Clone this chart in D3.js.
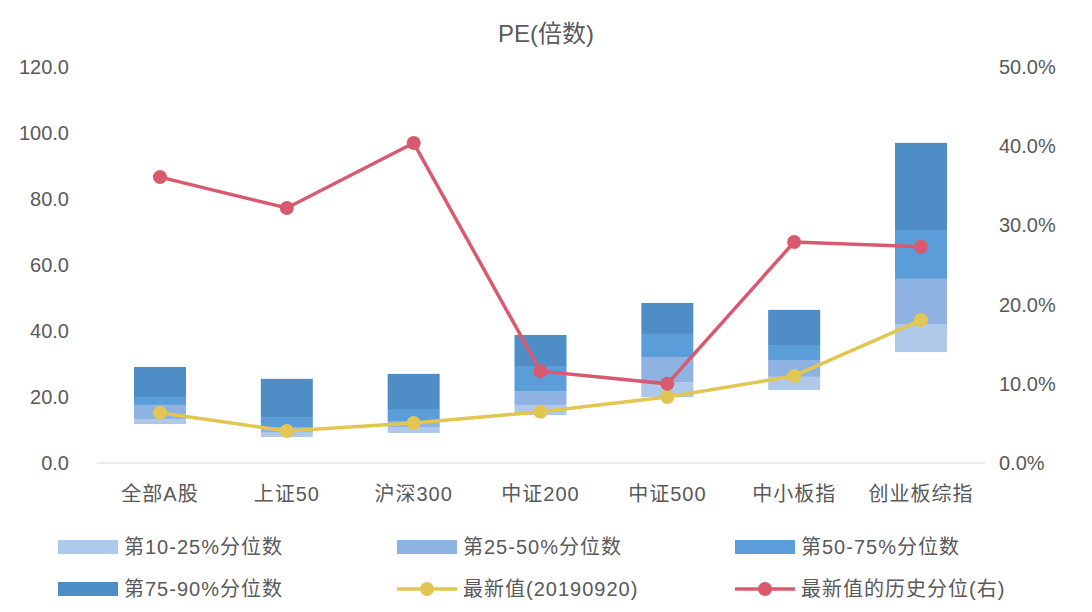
<!DOCTYPE html>
<html><head><meta charset="utf-8">
<script src="https://cdn.jsdelivr.net/npm/d3@7"></script>
<style>body{margin:0;background:#fff;font-family:"Liberation Sans","Noto Sans CJK SC",sans-serif}</style>
</head><body><svg id="c" width="1092" height="612"></svg>
<script>
const categories = ['全部A股','上证50','沪深300','中证200','中证500','中小板指','创业板综指'];
const p10 = [11.8, 7.9, 9.1, 14.5, 20.0, 22.1, 33.6];
const p25 = [13.3, 9.4, 10.9, 17.6, 24.5, 26.1, 42.1];
const p50 = [17.6, 10.9, 12.7, 21.8, 32.1, 31.2, 55.8];
const p75 = [20.0, 13.9, 16.1, 29.4, 39.1, 35.5, 70.6];
const p90 = [29.1, 25.5, 27.0, 38.8, 48.5, 46.4, 97.0];
const latest = [15.2, 9.7, 12.1, 15.5, 20.0, 26.4, 43.3];
const pctRank = [36.1, 32.2, 40.4, 11.6, 10.0, 27.9, 27.3];
const leftTicks = [0, 20, 40, 60, 80, 100, 120];
const rightTicks = [0, 10, 20, 30, 40, 50];

const svg = d3.select('#c');
const L = 75, R = 985, T = 67, B = 463, BW = 52;
const x = d3.scalePoint().domain(categories).range([160, 921]);
const y = d3.scaleLinear().domain([0, 120]).range([B, T]);
const y2 = d3.scaleLinear().domain([0, 50]).range([B, T]);
const cx = c => x(c);

svg.append('text').attr('x', 546).attr('y', 42).attr('text-anchor', 'middle')
  .attr('font-size', 24).attr('fill', '#595959').text('PE(倍数)');

const ax = svg.append('g').attr('transform', `translate(${L},0)`)
  .call(d3.axisLeft(y).tickValues(leftTicks).tickFormat(d3.format('.1f')).tickSize(0).tickPadding(6));
const ax2 = svg.append('g').attr('transform', `translate(${R},0)`)
  .call(d3.axisRight(y2).tickValues(rightTicks).tickFormat(d => d.toFixed(1) + '%').tickSize(0).tickPadding(14));
[ax, ax2].forEach(a => { a.select('.domain').remove(); a.selectAll('text').attr('font-size', 20).attr('fill', '#595959').attr('font-family', 'Liberation Sans'); });
ax.selectAll('text').attr('x', -6);

svg.append('line').attr('x1', 97).attr('x2', R).attr('y1', B).attr('y2', B).attr('stroke', '#d9d9d9');
svg.selectAll('.cl').data(categories).join('text').attr('x', cx).attr('y', B + 38)
  .attr('text-anchor', 'middle').attr('font-size', 20).attr('letter-spacing', 1).attr('fill', '#595959').text(d => d);

const segs = [[p10, p25, '#aec8e9'], [p25, p50, '#8eb2e1'], [p50, p75, '#5b9dd8'], [p75, p90, '#4f8dc7']];
segs.forEach(([lo, hi, col]) => {
  svg.append('g').selectAll('rect').data(categories).join('rect')
    .attr('x', d => x(d) - BW / 2).attr('width', BW)
    .attr('y', (d, i) => y(hi[i])).attr('height', (d, i) => y(lo[i]) - y(hi[i])).attr('fill', col);
});

function series(vals, sc, col) {
  svg.append('path').datum(vals).attr('fill', 'none').attr('stroke', col).attr('stroke-width', 3.5)
    .attr('d', d3.line().x((d, i) => cx(categories[i])).y(d => sc(d)));
  svg.append('g').selectAll('circle').data(vals).join('circle')
    .attr('cx', (d, i) => cx(categories[i])).attr('cy', d => sc(d)).attr('r', 7).attr('fill', col);
}
series(latest, y, '#e2c651');
series(pctRank, y2, '#d95a6f');

const legend = [
  ['第10-25%分位数', 'bar', '#aec8e9'], ['第25-50%分位数', 'bar', '#8eb2e1'], ['第50-75%分位数', 'bar', '#5b9dd8'],
  ['第75-90%分位数', 'bar', '#4f8dc7'], ['最新值(20190920)', 'line', '#e2c651'], ['最新值的历史分位(右)', 'line', '#d95a6f']];
const lx = [58, 397, 735], ly = [547, 589];
legend.forEach(([t, k, col], i) => {
  const g = svg.append('g').attr('transform', `translate(${lx[i % 3]},${ly[Math.floor(i / 3)]})`);
  if (k === 'bar') g.append('rect').attr('x', 0).attr('y', -7).attr('width', 60).attr('height', 14).attr('fill', col);
  else {
    g.append('line').attr('x1', 0).attr('x2', 60).attr('stroke', col).attr('stroke-width', 3.5);
    g.append('circle').attr('cx', 30).attr('r', 7).attr('fill', col);
  }
  g.append('text').attr('x', 66).attr('y', 7).attr('font-size', 20).attr('letter-spacing', 1).attr('fill', '#595959').text(t);
});
</script></body></html>
